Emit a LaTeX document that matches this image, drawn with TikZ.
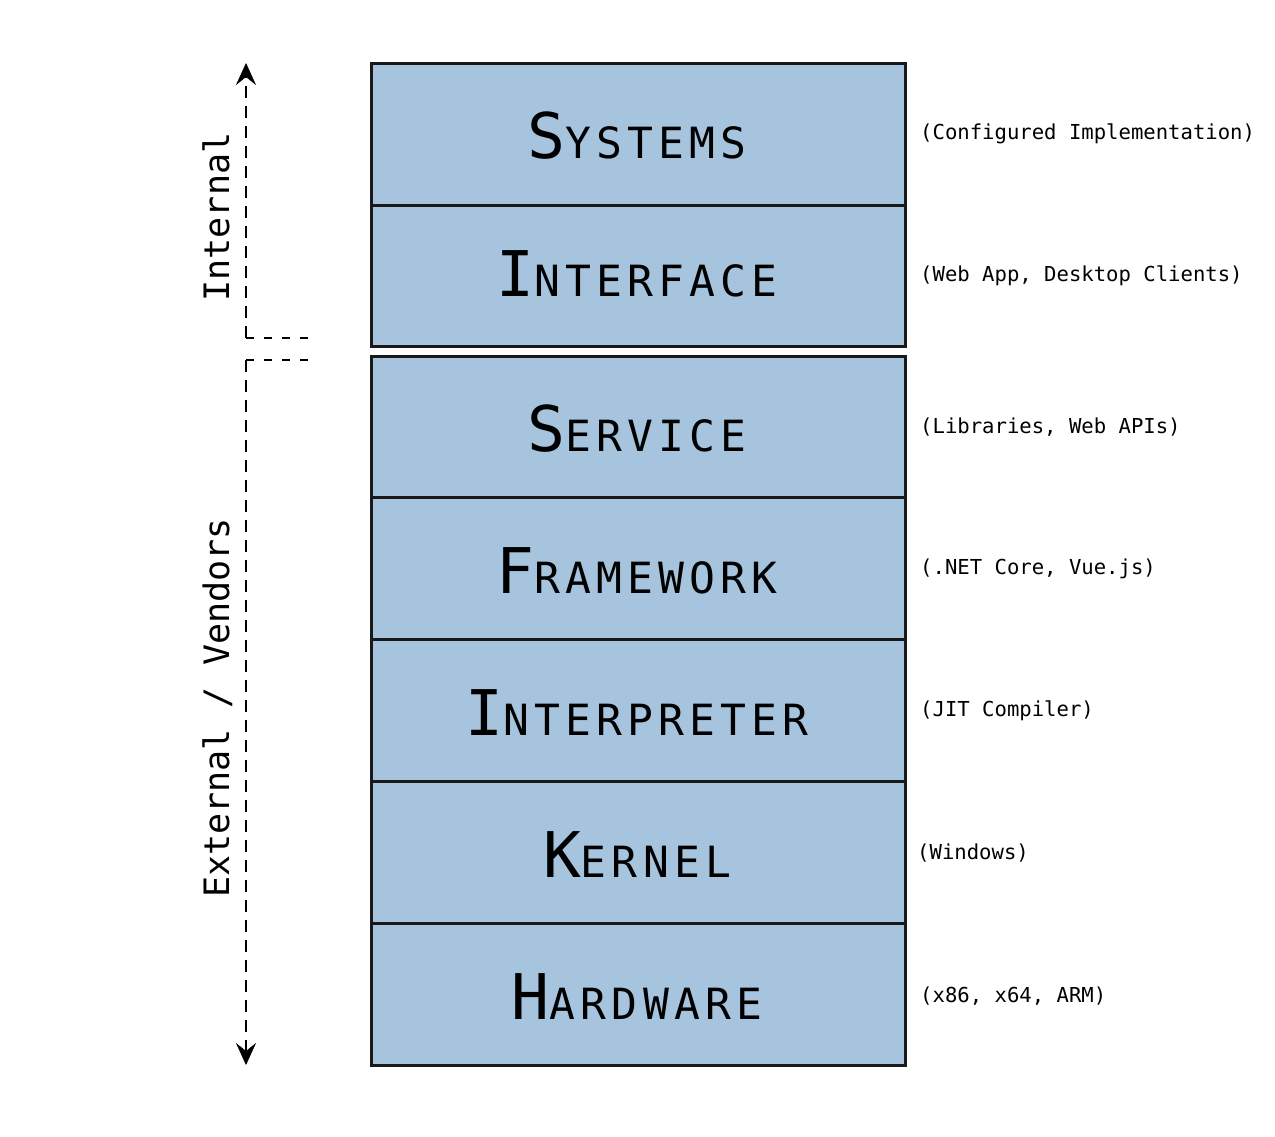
\documentclass[tikz,border=0pt]{standalone}
\usepackage{fontspec}
\usetikzlibrary{arrows.meta}
\newfontfamily\mono{DejaVu Sans Mono}
\newfontfamily\monols[LetterSpace=12]{DejaVu Sans Mono}
\definecolor{layerfill}{RGB}{166,196,222}
\definecolor{layerline}{RGB}{25,25,25}
\newcommand{\layertxt}[2]{{\monols\fontsize{63}{63}\selectfont #1}{\monols\fontsize{43}{43}\selectfont #2}}
\begin{document}
\begin{tikzpicture}[x=1pt,y=-1pt,
  layer/.style={draw=layerline, line width=3pt, fill=layerfill, minimum width=534pt, inner sep=0pt, outer sep=0pt},
  ltext/.style={anchor=base, inner sep=0pt},
  note/.style={anchor=west, inner sep=0pt, font=\mono\fontsize{20.6}{24}\selectfont},
  side/.style={anchor=base, rotate=90, inner sep=0pt, font=\mono\fontsize{35}{40}\selectfont},
  dline/.style={line width=2pt, dash pattern=on 12pt off 8pt},
  hline/.style={line width=2pt, dash pattern=on 8pt off 10pt},
  arrowtip/.style={-{Stealth[length=22pt,width=20pt,inset=8pt,line width=0.5pt]}}
]
\useasboundingbox (0,0) rectangle (1275,1136);
% layers
\node[layer, minimum height=142pt] (sys) at (638,134) {};
\node[layer, minimum height=141pt] (ifc) at (638,275.5) {};
\node[layer, minimum height=141pt] (svc) at (638,426.5) {};
\node[layer, minimum height=142pt] (fw) at (638,568) {};
\node[layer, minimum height=142pt] (itp) at (638,710) {};
\node[layer, minimum height=142pt] (krn) at (638,852) {};
\node[layer, minimum height=142pt] (hw) at (638,994) {};
% layer titles
\node[ltext] (tsys) at (637,158) {\layertxt{S}{YSTEMS}};
\node[ltext] (tifc) at (637,296) {\layertxt{I}{NTERFACE}};
\node[ltext] (tsvc) at (637,451) {\layertxt{S}{ERVICE}};
\node[ltext] (tfw) at (637,593) {\layertxt{F}{RAMEWORK}};
\node[ltext] (titp) at (637,735) {\layertxt{I}{NTERPRETER}};
\node[ltext] (tkrn) at (637,877) {\layertxt{K}{ERNEL}};
\node[ltext] (thw) at (637,1019) {\layertxt{H}{ARDWARE}};
% notes
\node[note] (nsys) at (920,134) {(Configured Implementation)};
\node[note] (nifc) at (920,276) {(Web App, Desktop Clients)};
\node[note] (nsvc) at (920,427) {(Libraries, Web APIs)};
\node[note] (nfw) at (920,569) {(.NET Core, Vue.js)};
\node[note] (nitp) at (920,711) {(JIT Compiler)};
\node[note] (nkrn) at (917,853) {(Windows)};
\node[note] (nhw) at (920,996) {(x86, x64, ARM)};
% side arrows
\coordinate (tA) at (308,338);
\coordinate (tB) at (246,338);
\coordinate (tTip) at (246,63);
\coordinate (bA) at (308,360);
\coordinate (bB) at (246,360);
\coordinate (bTip) at (246,1065);
\draw[hline] (tB) -- (tA);
\draw[hline] (bB) -- (bA);
\draw[dline, arrowtip] (tB) -- (tTip);
\draw[dline, arrowtip] (bB) -- (bTip);
\node[side] (lint) at (229,217) {Internal};
\node[side] (lext) at (229,708) {External / Vendors};
\end{tikzpicture}
\end{document}
